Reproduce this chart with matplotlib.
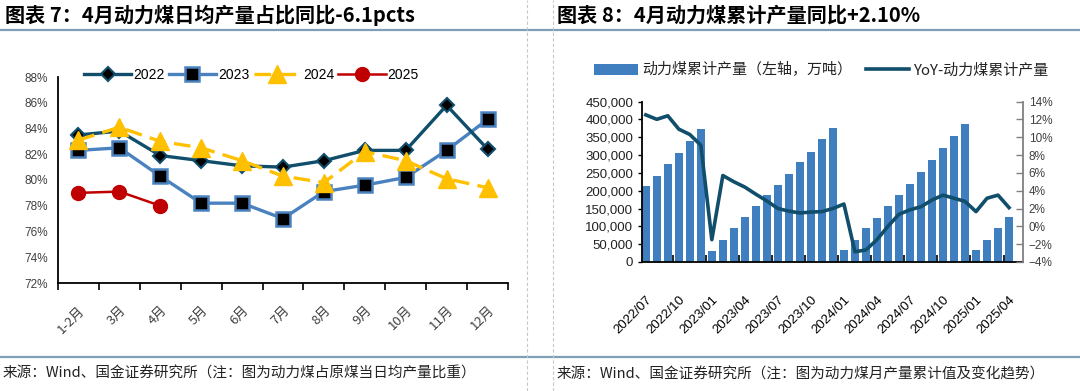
import numpy as np
import matplotlib.pyplot as plt
from matplotlib.lines import Line2D
from matplotlib.ticker import FuncFormatter, FixedLocator

plt.rcParams['font.family'] = ['Liberation Sans', 'Noto Sans CJK SC']
CJK = ['Noto Sans CJK SC', 'DejaVu Sans']

W, H = 1080, 391

# ---- chart 7: share of thermal coal in daily raw coal output (%)
months = ['1-2月', '3月', '4月', '5月', '6月', '7月', '8月', '9月', '10月', '11月', '12月']
share_2022 = [83.5, 83.8, 81.9, 81.5, 81.1, 81.0, 81.5, 82.3, 82.3, 85.8, 82.4]
share_2023 = [82.3, 82.5, 80.3, 78.2, 78.2, 77.0, 79.1, 79.6, 80.2, 82.3, 84.7]
share_2024 = [83.1, 84.1, 83.0, 82.5, 81.5, 80.3, 79.8, 82.2, 81.5, 80.1, 79.4]
share_2025 = [79.0, 79.1, 78.0]

# ---- chart 8: cumulative thermal coal output (万吨) and YoY (%), 2022/07 .. 2025/04
cum_output = [212000, 242000, 275000, 305000, 338000, 372000,
              31000, 61000, 96000, 127000, 157000, 187000,
              217000, 248000, 279000, 308000, 344000, 376000,
              33000, 61000, 94000, 124000, 156000, 189000,
              220000, 252000, 286000, 320000, 354000, 387000,
              33000, 61000, 96000, 126000]
yoy = [12.5, 12.0, 12.4, 10.9, 10.3, 9.1,
       -1.5, 5.7, 5.0, 4.4, 3.6, 2.85,
       2.0, 1.7, 1.5, 1.6, 1.65, 2.0,
       2.5, -2.85, -2.65, -1.5, 0.0, 1.35,
       1.85, 2.2, 2.95, 3.5, 3.15, 2.8,
       1.65, 3.15, 3.5, 2.1]
date_labels = ['2022/07', '2022/10', '2023/01', '2023/04', '2023/07', '2023/10',
               '2024/01', '2024/04', '2024/07', '2024/10', '2025/01', '2025/04']

C22 = '#104E6B'
C23 = '#4A82C0'
C24 = '#FFC000'
C25 = '#C00000'
BAR = '#3F7FBF'
RULE = '#7F9FB6'
TXT = '#404040'


def fx(px):
    return px / W


def fy(py):
    return 1 - py / H


fig = plt.figure(figsize=(W / 100, H / 100), dpi=100)

# frame: rules and dashed dividers
for yy in (30, 357):
    fig.add_artist(Line2D([0, 1], [fy(yy), fy(yy)], transform=fig.transFigure,
                          color=RULE, lw=1.6))
for xx in (527, 553):
    fig.add_artist(Line2D([fx(xx), fx(xx)], [0, 1], transform=fig.transFigure,
                          color='#C8C8C8', lw=0.8, ls=(0, (3, 2))))

fig.text(fx(5), fy(15), '图表 7：4月动力煤日均产量占比同比-6.1pcts', family=CJK,
         fontsize=14.5, fontweight='bold', va='center', ha='left')
fig.text(fx(557), fy(15), '图表 8：4月动力煤累计产量同比+2.10%', family=CJK,
         fontsize=14.5, fontweight='bold', va='center', ha='left')
fig.text(fx(3), fy(374), '来源：Wind、国金证券研究所（注：图为动力煤占原煤当日均产量比重）',
         family=CJK, fontsize=10.5, va='center', ha='left', color='#222222')
fig.text(fx(557), fy(374), '来源：Wind、国金证券研究所（注：图为动力煤月产量累计值及变化趋势）',
         family=CJK, fontsize=10.5, va='center', ha='left', color='#222222')

# ---------------------------------------------------------------- chart 7
ax = fig.add_axes([fx(58), fy(283), fx(508) - fx(58), fy(77) - fy(283)])
x = np.arange(len(months))
ax.plot(x, share_2022, color=C22, lw=2.4, marker='D', ms=7, mfc='black',
        mec=C22, mew=1.5, label='2022', zorder=4)
ax.plot(x, share_2023, color=C23, lw=2.4, marker='s', ms=10, mfc='black',
        mec=C23, mew=1.8, label='2023', zorder=3)
ax.plot(x, share_2024, color=C24, lw=2.4, ls=(0, (5, 2.5)), marker='^', ms=13,
        mfc=C24, mec=C24, label='2024', zorder=5)
ax.plot(x[:len(share_2025)], share_2025, color=C25, lw=1.8, marker='o', ms=10,
        mfc=C25, mec=C25, label='2025', zorder=5)

ax.set_xlim(-0.5, len(months) - 0.5)
ax.set_ylim(72, 88)
ax.set_yticks(np.arange(72, 89, 2))
ax.yaxis.set_major_formatter(FuncFormatter(lambda v, p: f'{v:.0f}%'))
ax.set_xticks(x)
ax.set_xticklabels(months, rotation=45, ha='right', rotation_mode='anchor',
                   family=CJK, fontsize=9.5, color=TXT)
ax.xaxis.set_minor_locator(FixedLocator(np.arange(-0.5, len(months), 1)))
ax.tick_params(axis='x', which='major', length=0, pad=15)
ax.tick_params(axis='x', which='minor', length=5, width=1.2, direction='out')
ax.tick_params(axis='y', length=0, pad=7, labelsize=8.5, labelcolor=TXT)
for s in ('top', 'right'):
    ax.spines[s].set_visible(False)
for s in ('left', 'bottom'):
    ax.spines[s].set_linewidth(1.3)
    ax.spines[s].set_color('black')
ax.legend(loc='center left', bbox_to_anchor=(fx(84), fy(75)),
          bbox_transform=fig.transFigure, ncol=4, frameon=False, fontsize=10,
          handlelength=3.4, handletextpad=0.15, columnspacing=0.3,
          borderpad=0, borderaxespad=0)

# ---------------------------------------------------------------- chart 8
ax2 = fig.add_axes([fx(641.5), fy(262), fx(1023) - fx(641.5), fy(101.5) - fy(262)])
xb = np.arange(len(cum_output))
ax2.bar(xb, cum_output, width=0.68, color=BAR, label='动力煤累计产量（左轴，万吨）',
        zorder=2)
ax2.set_xlim(-0.39, len(cum_output) + 0.27)
ax2.set_ylim(0, 450000)
ax2.set_yticks(np.arange(0, 450001, 50000))
ax2.yaxis.set_major_formatter(FuncFormatter(lambda v, p: f'{v:,.0f}'))
ax2.tick_params(axis='y', length=3, width=1, direction='out', labelsize=9.5,
                labelcolor='#222222', pad=3)
ax2.set_xticks(xb[::3])
ax2.set_xticklabels(date_labels, rotation=45, ha='right', rotation_mode='anchor',
                    fontsize=9.5, color='black')
ax2.xaxis.set_minor_locator(FixedLocator(np.arange(2.5, len(cum_output), 3)))
ax2.tick_params(axis='x', which='major', length=0, pad=23)
ax2.tick_params(axis='x', which='minor', length=5, width=1.2, direction='in')
ax2.spines['top'].set_visible(False)
ax2.spines['right'].set_visible(False)
for s in ('left', 'bottom'):
    ax2.spines[s].set_linewidth(1.3)
    ax2.spines[s].set_color('black')

ax3 = ax2.twinx()
ax3.plot(xb, yoy, color=C22, lw=2.6, label='YoY-动力煤累计产量', zorder=4)
ax3.set_ylim(-4, 14)
ax3.set_yticks(np.arange(-4, 15, 2))
ax3.yaxis.set_major_formatter(FuncFormatter(lambda v, p: f'{v:.0f}%'.replace('-', '\u2212')))
ax3.tick_params(axis='y', length=5, width=1, direction='in', labelsize=8.5,
                labelcolor=TXT, color='#808080', pad=4)
for s in ('top', 'left', 'bottom'):
    ax3.spines[s].set_visible(False)
ax3.spines['right'].set_color('#808080')
ax3.spines['right'].set_linewidth(1.3)

h1, l1 = ax2.get_legend_handles_labels()
h2, l2 = ax3.get_legend_handles_labels()
leg = fig.legend(h1 + h2, l1 + l2, loc='center left',
                 bbox_to_anchor=(fx(594), fy(70)), bbox_transform=fig.transFigure,
                 ncol=2, frameon=False, handlelength=2.9,
                 handletextpad=0.3, columnspacing=0.9, borderpad=0,
                 borderaxespad=0, prop={'family': CJK, 'size': 10.8})
for t in leg.get_texts():
    t.set_color('#222222')

fig.savefig('out.png', dpi=100)
